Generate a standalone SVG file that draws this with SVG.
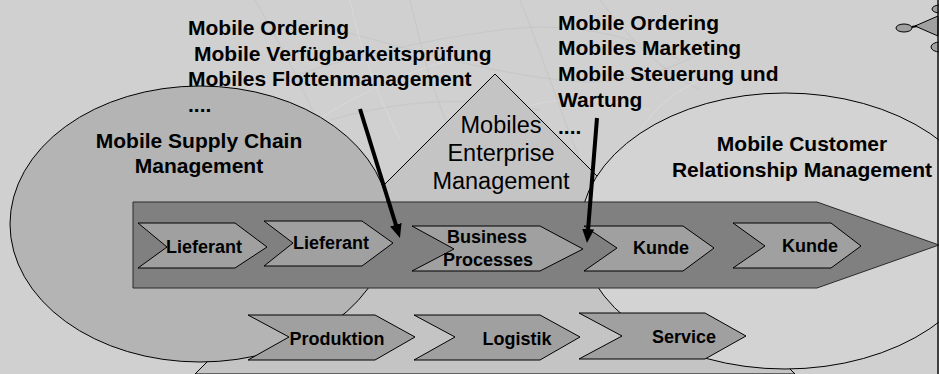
<svg xmlns="http://www.w3.org/2000/svg" width="939" height="374" viewBox="0 0 939 374">
  <defs>
    <style>
      .bg { fill: #d0d0d0; }
      .tex { fill: none; stroke: #bfbfbf; stroke-width: 1.2; opacity: 0.45; }
      .tex2 { fill: none; stroke: #dcdcdc; stroke-width: 1.2; opacity: 0.6; }
      .outline { stroke: #000; stroke-width: 1; }
      .chev { fill: #a0a0a0; stroke: #000; stroke-width: 1; }
      .lbl { font-family: "Liberation Sans", Arial, sans-serif; font-weight: bold; font-size: 18px; fill: #000; text-anchor: middle; }
      .head { font-family: "Liberation Sans", Arial, sans-serif; font-weight: bold; font-size: 21px; fill: #000; }
      .area { font-family: "Liberation Sans", Arial, sans-serif; font-weight: bold; font-size: 21px; fill: #000; text-anchor: middle; }
      .ent { font-family: "Liberation Sans", Arial, sans-serif; font-size: 23.5px; fill: #000; text-anchor: middle; }
      .arrow { stroke: #000; stroke-width: 4; fill: none; marker-end: url(#head); }
    </style>
    <marker id="head" markerUnits="userSpaceOnUse" viewBox="0 0 14 12" markerWidth="14" markerHeight="12" refX="4" refY="6" orient="auto">
      <path d="M0,0 L14,6 L0,12 z" fill="#000"/>
    </marker>
  </defs>

  <!-- backdrop -->
  <rect class="bg" x="0" y="0" width="939" height="374"/>
  <g id="texture">
    <path class="tex" d="M255,0 C290,60 320,120 350,200"/>
    <path class="tex" d="M300,20 C380,40 470,70 560,80 C620,88 680,70 720,40"/>
    <path class="tex" d="M330,120 C400,100 470,95 540,110"/>
    <path class="tex" d="M410,0 C420,40 430,90 455,140"/>
    <path class="tex" d="M520,0 C540,50 560,110 580,160"/>
    <path class="tex" d="M600,0 C630,40 660,70 700,90"/>
    <path class="tex" d="M280,80 C340,60 420,40 500,30 C560,22 620,30 680,60"/>
    <path class="tex2" d="M270,150 C330,110 380,80 450,60"/>
    <path class="tex2" d="M470,130 C520,100 580,90 650,110"/>
    <path class="tex2" d="M350,0 C360,50 380,100 400,140"/>
    <path class="tex2" d="M640,130 C660,100 690,80 730,70"/>
  </g>

  <!-- Mobiles Enterprise Management -->
  <g id="enterprise">
    <polygon points="495,74 795,374 195,374" fill="#c4c4c4" class="outline"/>
  </g>

  <!-- Mobile Supply Chain Management -->
  <g id="scm">
    <ellipse cx="200" cy="224" rx="190" ry="138" fill="#b4b4b4" class="outline"/>
  </g>

  <!-- Mobile Customer Relationship Management -->
  <g id="crm">
    <ellipse cx="785" cy="231" rx="205" ry="138" fill="#d3d3d3" class="outline"/>
  </g>

  <!-- value chain band -->
  <g id="band">
    <polygon points="133,202 817,202 939,245 817,288 133,288" fill="#808080" stroke="#2a2a2a" stroke-width="1"/>
  </g>

  <!-- process steps -->
  <g id="lieferant1">
    <polygon class="chev" points="138,223 235,223 267,247 235,268 138,268 167,247"/>
    <text class="lbl" x="204" y="253">Lieferant</text>
  </g>
  <g id="lieferant2">
    <polygon class="chev" points="264,221 362,221 393,243 362,266 264,266 293,243"/>
    <text class="lbl" x="331" y="249">Lieferant</text>
  </g>
  <g id="business">
    <polygon class="chev" points="412,226 540,226 583,249 540,271 412,271 454,249"/>
    <text class="lbl" x="487" y="243">Business</text>
    <text class="lbl" x="488" y="266">Processes</text>
  </g>
  <g id="kunde1">
    <polygon class="chev" points="584,226 683,226 714,248 683,271 584,271 617,248"/>
    <text class="lbl" x="661" y="254">Kunde</text>
  </g>
  <g id="kunde2">
    <polygon class="chev" points="733,223 831,223 861,246 831,268 733,268 765,246"/>
    <text class="lbl" x="810" y="252">Kunde</text>
  </g>
  <g id="produktion">
    <polygon class="chev" points="248,315 375,315 415,337 375,360 248,360 289,337"/>
    <text class="lbl" x="337" y="345">Produktion</text>
  </g>
  <g id="logistik">
    <polygon class="chev" points="414,315 540,315 580,337 540,360 414,360 455,337"/>
    <text class="lbl" x="517" y="345">Logistik</text>
  </g>
  <g id="service">
    <polygon class="chev" points="579,313 705,313 746,336 705,359 579,359 622,336"/>
    <text class="lbl" x="684" y="343">Service</text>
  </g>

  <!-- area titles -->
  <g id="scm-title">
    <text class="area" x="199" y="148">Mobile Supply Chain</text>
    <text class="area" x="199" y="173">Management</text>
  </g>
  <g id="crm-title">
    <text class="area" x="802" y="151">Mobile Customer</text>
    <text class="area" x="802" y="177">Relationship Management</text>
  </g>
  <g id="enterprise-title">
    <text class="ent" x="501" y="133">Mobiles</text>
    <text class="ent" x="501" y="161">Enterprise</text>
    <text class="ent" x="501" y="189">Management</text>
  </g>

  <!-- application lists -->
  <g id="apps-left">
    <text class="head" x="188" y="35">Mobile Ordering</text>
    <text class="head" x="194" y="61">Mobile Verfügbarkeitsprüfung</text>
    <text class="head" x="188" y="86">Mobiles Flottenmanagement</text>
    <text class="head" x="188" y="112">....</text>
  </g>
  <g id="apps-right">
    <text class="head" x="558" y="30">Mobile Ordering</text>
    <text class="head" x="558" y="55">Mobiles Marketing</text>
    <text class="head" x="558" y="81">Mobile Steuerung und</text>
    <text class="head" x="558" y="107">Wartung</text>
    <text class="head" x="558" y="134">....</text>
  </g>

  <!-- connectors -->
  <g id="connectors">
    <line class="arrow" x1="360" y1="109" x2="397" y2="228.5"/>
    <line class="arrow" x1="597" y1="118" x2="587.8" y2="233"/>
  </g>

  <!-- corner symbol -->
  <g id="corner-icon">
    <polygon points="915,26 938,16 938,36" fill="#a0a0a0" stroke="#000" stroke-width="1"/>
    <line x1="912" y1="27" x2="917" y2="26" stroke="#000" stroke-width="2"/>
    <ellipse cx="904" cy="28" rx="8" ry="4" fill="#a0a0a0" stroke="#000" stroke-width="1"/>
    <ellipse cx="940" cy="9" rx="8" ry="4" fill="#a0a0a0" stroke="#000" stroke-width="1"/>
    <ellipse cx="940" cy="47" rx="9" ry="5" fill="#a0a0a0" stroke="#000" stroke-width="1"/>
    <line x1="938" y1="0" x2="938" y2="374" stroke="#111" stroke-width="1.5"/>
  </g>
</svg>
